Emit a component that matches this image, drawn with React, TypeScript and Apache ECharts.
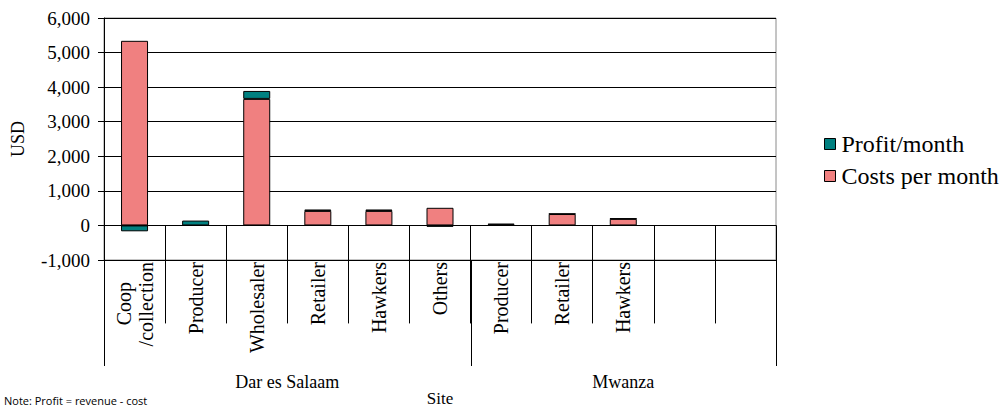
import React, { useEffect, useRef } from "react";
import * as echarts from "echarts";

// Market actors by site (USD per month)
const categories = [
  "Coop\n/collection",
  "Producer",
  "Wholesaler",
  "Retailer",
  "Hawkers",
  "Others",
  "Producer",
  "Retailer",
  "Hawkers",
  "",
  "",
];
const costsPerMonth = [5340, 0, 3660, 420, 420, 510, 20, 330, 190, null, null];
const profitPerMonth = [-170, 140, 230, 40, 40, -40, 30, 10, 10, null, null];

// Site groups span category slots [from, to)
const siteNames = ["Dar es Salaam", "Mwanza"];
const siteStarts = [0, 6];
const siteEnds = [6, 11];

const yMin = -1000;
const yMax = 6000;
const yStep = 1000;

const SERIF = "'Liberation Serif', 'Times New Roman', serif";
const COST_COLOR = "#F08080";
const PROFIT_COLOR = "#008080";
const LABEL_SIZE = 20;

export default function App() {
  const ref = useRef<HTMLDivElement>(null);

  useEffect(() => {
    if (!ref.current) return;
    const chart = echarts.init(ref.current, null, { renderer: "svg" });

    chart.setOption({
      animation: false,
      backgroundColor: "#fff",
      grid: {
        left: 104,
        right: 226,
        top: 18,
        bottom: 148,
        show: true,
        borderColor: "#8a8a8a",
        borderWidth: 1,
        containLabel: false,
      },
      legend: {
        orient: "vertical",
        left: 819,
        top: 127,
        itemWidth: 11,
        itemHeight: 11,
        itemGap: 8,
        icon: "rect",
        data: ["Profit/month", "Costs per month"],
        itemStyle: { borderColor: "#000", borderWidth: 1 },
        textStyle: { fontFamily: SERIF, fontSize: 24, color: "#000", padding: [0, 0, 0, 1] },
      },
      xAxis: {
        type: "category",
        data: categories,
        axisLine: { onZero: true, lineStyle: { color: "#000", width: 1 } },
        axisTick: {
          show: true,
          inside: false,
          length: 98,
          lineStyle: { color: "#000", width: 1 },
        },
        axisLabel: {
          interval: 0,
          rotate: 90,
          margin: 2,
          fontFamily: SERIF,
          fontSize: LABEL_SIZE,
          lineHeight: 22,
          color: "#000",
          // two-line label: the short first line sits centred over the second
          formatter: (v: string) => {
            const parts = v.split("\n");
            if (parts.length < 2) return v;
            return `{short|${parts[0]}}\n{long|${parts[1]}}`;
          },
          rich: {
            short: {
              fontFamily: SERIF,
              fontSize: LABEL_SIZE,
              lineHeight: 22,
              color: "#000",
              padding: [0, 20, 0, 0],
            },
            long: {
              fontFamily: SERIF,
              fontSize: LABEL_SIZE,
              lineHeight: 22,
              color: "#000",
            },
          },
        },
        splitLine: { show: false },
      },
      yAxis: {
        type: "value",
        min: yMin,
        max: yMax,
        interval: yStep,
        axisLine: { show: true, lineStyle: { color: "#000", width: 1 } },
        axisTick: { show: true, length: 6, lineStyle: { color: "#000" } },
        axisLabel: {
          margin: 14,
          fontFamily: SERIF,
          fontSize: 19,
          color: "#000",
          formatter: (v: number) => v.toLocaleString("en-US"),
        },
        splitLine: { show: true, lineStyle: { color: "#000", width: 1 } },
      },
      series: [
        {
          name: "Costs per month",
          type: "bar",
          stack: "total",
          data: costsPerMonth,
          barWidth: 27,
          itemStyle: { color: COST_COLOR, borderColor: "#000", borderWidth: 1 },
        },
        {
          name: "Profit/month",
          type: "bar",
          stack: "total",
          data: profitPerMonth,
          barWidth: 27,
          itemStyle: { color: PROFIT_COLOR, borderColor: "#000", borderWidth: 1 },
        },
      ],
    });

    // Group dividers and labels under the category axis, placed through the axis scales
    const c0 = chart.convertToPixel({ xAxisIndex: 0 }, 0) as number;
    const c1 = chart.convertToPixel({ xAxisIndex: 0 }, 1) as number;
    const band = c1 - c0;
    const edge = (i: number) => c0 - band / 2 + i * band;
    const yBottom = chart.convertToPixel({ yAxisIndex: 0 }, yMin) as number;
    const yTop = chart.convertToPixel({ yAxisIndex: 0 }, yMax) as number;
    const groupLineEnd = yBottom + 106;

    const graphics: any[] = [];
    const boundaries = Array.from(new Set([...siteStarts, ...siteEnds]));
    boundaries.forEach((b) => {
      const x = Math.round(edge(b)) + 0.5;
      graphics.push({
        type: "line",
        shape: { x1: x, y1: yBottom, x2: x, y2: groupLineEnd },
        style: { stroke: "#000", lineWidth: 1 },
        silent: true,
      });
    });
    siteNames.forEach((name, i) => {
      graphics.push({
        type: "text",
        x: (edge(siteStarts[i]) + edge(siteEnds[i])) / 2,
        y: 382,
        style: {
          text: name,
          fontFamily: SERIF,
          fontSize: 18,
          fill: "#000",
          align: "center",
          verticalAlign: "middle",
        },
        silent: true,
      });
    });
    graphics.push({
      type: "text",
      x: (edge(0) + edge(categories.length)) / 2,
      y: 398,
      style: {
        text: "Site",
        fontFamily: SERIF,
        fontSize: 17,
        fill: "#000",
        align: "center",
        verticalAlign: "middle",
      },
      silent: true,
    });
    graphics.push({
      type: "text",
      x: 18,
      y: (yTop + yBottom) / 2,
      rotation: Math.PI / 2,
      style: {
        text: "USD",
        fontFamily: SERIF,
        fontSize: 18,
        fill: "#000",
        align: "center",
        verticalAlign: "middle",
      },
      silent: true,
    });
    graphics.push({
      type: "text",
      x: 4,
      y: 395,
      style: {
        text: "Note: Profit = revenue - cost",
        fontFamily: "'Open Sans', 'Noto Sans', sans-serif",
        fontSize: 11,
        fill: "#000",
        align: "left",
        verticalAlign: "top",
      },
      silent: true,
    });

    chart.setOption({ graphic: graphics });

    return () => chart.dispose();
  }, []);

  return <div ref={ref} style={{ width: 1002, height: 408, position: "absolute", left: 0, top: 0 }} />;
}
